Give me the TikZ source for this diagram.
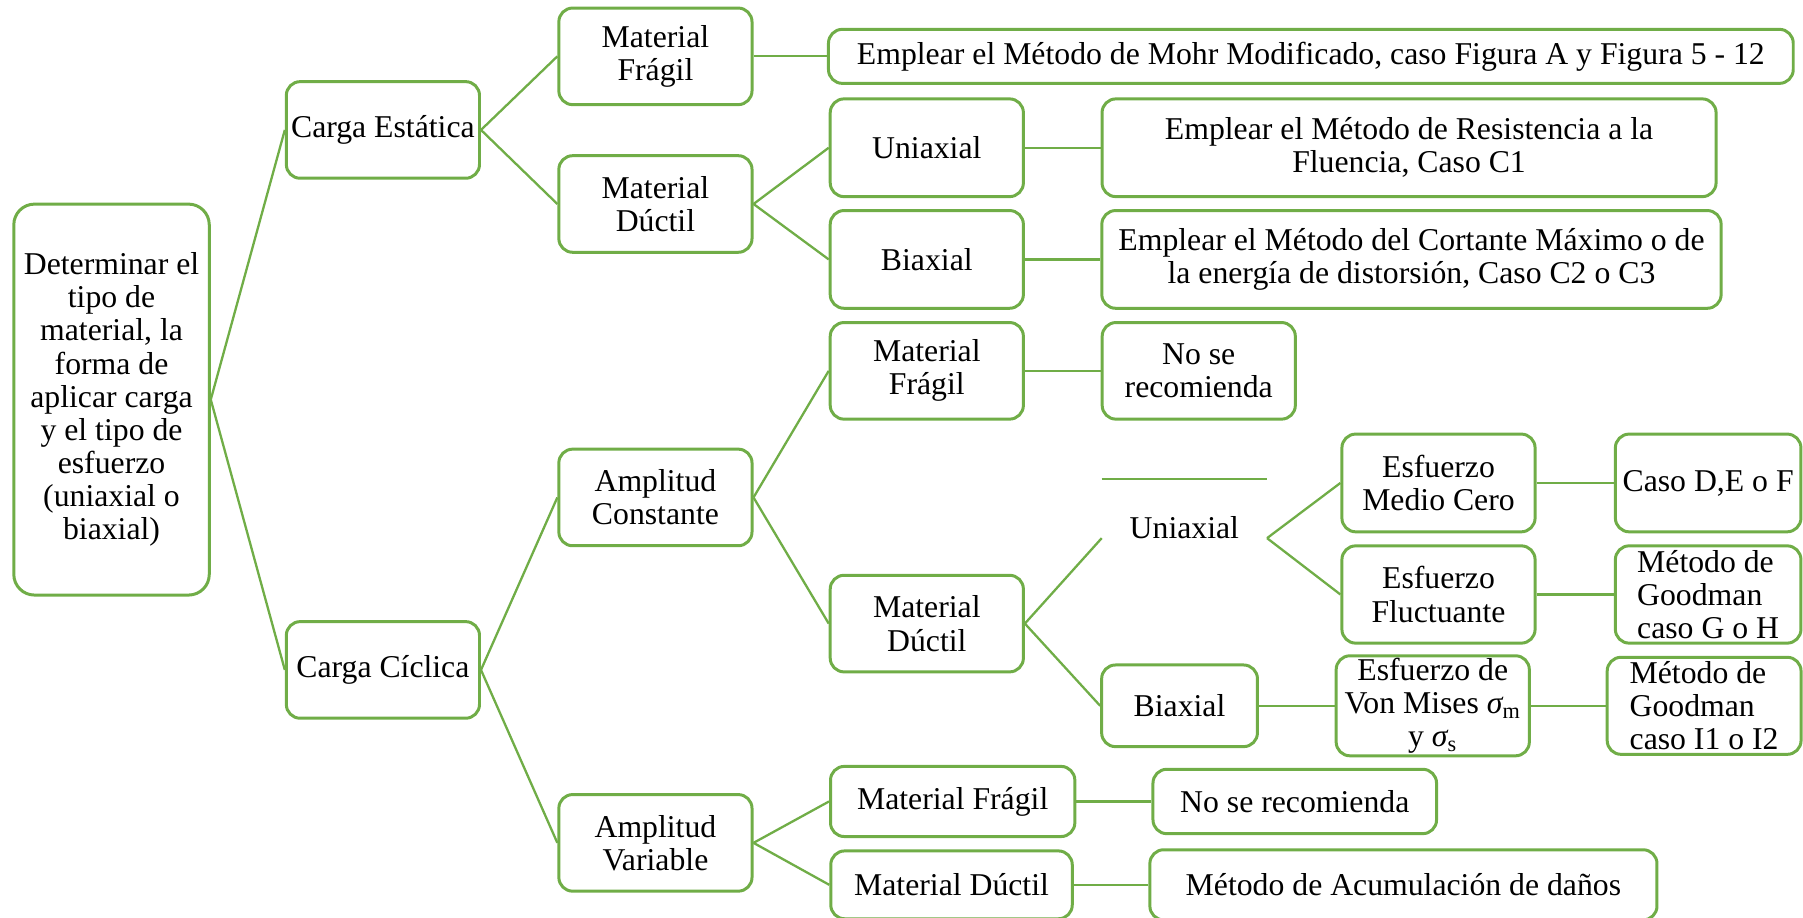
\documentclass[tikz,border=0pt]{standalone}
\usepackage{fontspec}
\setmainfont{Liberation Serif}
\definecolor{leafgreen}{HTML}{70AD47}

\begin{document}
\begin{tikzpicture}[x=0.5pt, y=-0.5pt,
    box/.style={draw=leafgreen, line width=1.3pt, rounded corners=6pt, fill=white,
      align=center, inner sep=1pt, font=\fontsize{13.8}{14.4}\selectfont},
    plain/.style={align=center, inner sep=1pt, font=\fontsize{13.8}{14.4}\selectfont},
    link/.style={leafgreen, line width=1pt}]

  \useasboundingbox (0,0) rectangle (1568,798);

  %% ===== ROOT =====
  \node[box, rounded corners=9pt, minimum width=85pt, minimum height=170pt] (root) at (97,347.5)
    {Determinar el\\tipo de\\material, la\\forma de\\aplicar carga\\y el tipo de\\esfuerzo\\(uniaxial o\\biaxial)};

  %% ===== STATIC LOAD =====
  \node[box, minimum width=84pt, minimum height=42pt] (estatica) at (333,113) {Carga Estática};

  \node[box, minimum width=84pt, minimum height=42pt] (fragA) at (570,49) {Material\\Frágil};
  \node[box, minimum width=84pt, minimum height=42pt] (ductA) at (570,177.4) {Material\\Dúctil};

  \node[box, minimum width=419.5pt, minimum height=23.5pt] (mohr) at (1140,49)
    {Emplear el Método de Mohr Modificado, caso Figura A y Figura 5 - 12};

  \node[box, minimum width=84pt, minimum height=42.5pt] (uniA) at (806,128.5) {Uniaxial};
  \node[box, minimum width=84pt, minimum height=42.5pt] (biaA) at (806,225.6) {Biaxial};

  \node[box, minimum width=267pt, minimum height=42.5pt] (resist) at (1225.4,128.5)
    {Emplear el Método de Resistencia a la\\Fluencia, Caso C1};
  \node[box, minimum width=269.3pt, minimum height=42.5pt] (cortante) at (1227.5,225.6)
    {Emplear el Método del Cortante Máximo o de\\la energía de distorsión, Caso C2 o C3};

  %% ===== CYCLIC LOAD =====
  \node[box, minimum width=84pt, minimum height=42pt] (ciclica) at (333,582.6) {Carga Cíclica};

  \node[box, minimum width=84pt, minimum height=42pt] (constante) at (570,432.6) {Amplitud\\Constante};
  \node[box, minimum width=84pt, minimum height=42pt] (variable) at (570,733) {Amplitud\\Variable};

  % constant amplitude branch
  \node[box, minimum width=84pt, minimum height=42pt] (fragB) at (806,322.5) {Material\\Frágil};
  \node[box, minimum width=84pt, minimum height=42pt] (norecB) at (1042.5,322.5) {No se\\recomienda};
  \node[box, minimum width=84pt, minimum height=42pt] (ductB) at (806,542.3) {Material\\Dúctil};

  % uniaxial has only its top edge
  \node[plain, minimum width=71.5pt, minimum height=51pt, text height=9.5pt, text depth=9.5pt]
    (uniB) at (1030,468) {Uniaxial};
  \draw[link] (uniB.north west) -- (uniB.north east);

  \node[box, minimum width=84pt, minimum height=42.5pt] (medio) at (1251,420) {Esfuerzo\\Medio Cero};
  \node[box, minimum width=80.7pt, minimum height=42.5pt] (casoDEF) at (1485.5,420) {Caso D,E o F};
  \node[box, minimum width=84pt, minimum height=42.3pt] (fluct) at (1251,517) {Esfuerzo\\Fluctuante};
  \node[box, align=left, minimum width=80.7pt, minimum height=42.3pt] (goodGH) at (1485.5,517)
    {Método de\\Goodman\\caso G o H};

  \node[box, minimum width=67.75pt, minimum height=35.5pt] (biaB) at (1025.8,613.8) {Biaxial};
  \node[box, minimum width=84pt, minimum height=42.2pt] (mises) at (1246,613.8)
    {Esfuerzo de\\Von Mises {\itshape σ}\textsubscript{m}\\y {\itshape σ}\textsubscript{s}};
  \node[box, align=left, minimum width=84.3pt, minimum height=42.2pt] (goodI) at (1482,613.8)
    {Método de\\Goodman\\caso I1 o I2};

  % variable amplitude branch
  \node[box, minimum width=106.25pt, minimum height=30.5pt] (fragC) at (828.5,697) {Material Frágil};
  \node[box, minimum width=123.3pt, minimum height=28pt] (norecC) at (1126,697) {No se recomienda};
  \node[box, minimum width=105pt, minimum height=29.5pt] (ductC) at (827.5,769.5) {Material Dúctil};
  \node[box, minimum width=220.5pt, minimum height=30.5pt] (acumul) at (1220.5,769.5)
    {Método de Acumulación de daños};

  %% ===== CONNECTORS =====
  \draw[link] (root.east) -- (estatica.west);
  \draw[link] (root.east) -- (ciclica.west);

  \draw[link] (estatica.east) -- (fragA.west);
  \draw[link] (estatica.east) -- (ductA.west);
  \draw[link] (fragA.east) -- (mohr.west);
  \draw[link] (ductA.east) -- (uniA.west);
  \draw[link] (ductA.east) -- (biaA.west);
  \draw[link] (uniA.east) -- (resist.west);
  \draw[link] (biaA.east) -- (cortante.west);

  \draw[link] (ciclica.east) -- (constante.west);
  \draw[link] (ciclica.east) -- (variable.west);
  \draw[link] (constante.east) -- (fragB.west);
  \draw[link] (constante.east) -- (ductB.west);
  \draw[link] (fragB.east) -- (norecB.west);
  \draw[link] (ductB.east) -- (uniB.west);
  \draw[link] (ductB.east) -- (biaB.west);
  \draw[link] (uniB.east) -- (medio.west);
  \draw[link] (uniB.east) -- (fluct.west);
  \draw[link] (medio.east) -- (casoDEF.west);
  \draw[link] (fluct.east) -- (goodGH.west);
  \draw[link] (biaB.east) -- (mises.west);
  \draw[link] (mises.east) -- (goodI.west);

  \draw[link] (variable.east) -- (fragC.west);
  \draw[link] (variable.east) -- (ductC.west);
  \draw[link] (fragC.east) -- (norecC.west);
  \draw[link] (ductC.east) -- (acumul.west);

\end{tikzpicture}
\end{document}
